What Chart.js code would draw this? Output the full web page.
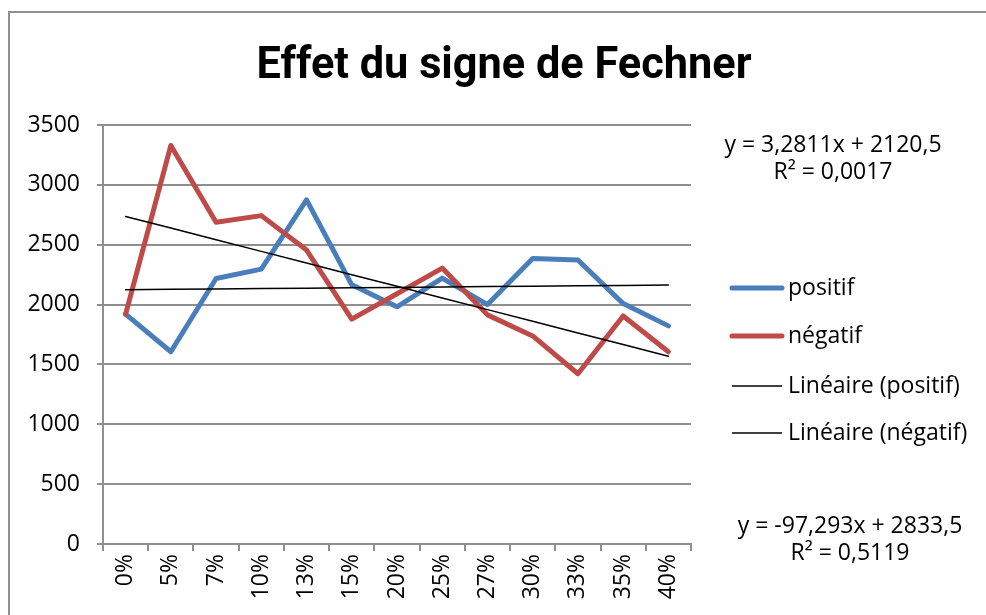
<!DOCTYPE html>
<html lang="fr">
<head>
<meta charset="UTF-8">
<title>Effet du signe de Fechner</title>
<script src="https://cdn.jsdelivr.net/npm/chart.js"></script>
<style>
  html, body { margin: 0; padding: 0; background: #fff; }
  #wrap { width: 986px; height: 615px; position: relative; }
</style>
</head>
<body>
<div id="wrap"><canvas id="fechner"></canvas></div>
<script>
  // Données : temps moyen par niveau de différence
  const categories = ['0%', '5%', '7%', '10%', '13%', '15%', '20%', '25%', '27%', '30%', '33%', '35%', '40%'];
  const positif = [1920, 1606, 2218, 2296, 2874, 2165, 1981, 2221, 2000, 2385, 2372, 2008, 1822];
  const negatif = [1920, 3329, 2687, 2743, 2455, 1878, 2090, 2305, 1914, 1738, 1422, 1905, 1606];

  // Courbes de tendance linéaires : [pente, ordonnée à l'origine, R²]
  const tendancePositif = [3.2811, 2120.5, 0.0017];
  const tendanceNegatif = [-97.293, 2833.5, 0.5119];

  const yMax = 3500;
  const yStep = 500;

  const GREY = '#8f8f8f';
  const BLUE = '#4a7ebb';
  const RED = '#be4b48';
  const FONT = '"Open Sans", "DejaVu Sans", sans-serif';

  // x = 1..n comme dans Excel
  const droite = ([a, b]) => categories.map((c, i) => a * (i + 1) + b);
  const virgule = v => String(v).replace('.', ',');
  const equation = ([a, b]) => 'y = ' + virgule(a) + 'x + ' + virgule(b);

  const decor = {
    id: 'decor',
    beforeDraw(chart) {
      const ctx = chart.ctx;
      ctx.save();
      ctx.strokeStyle = GREY;
      ctx.lineWidth = 2;
      ctx.beginPath();
      ctx.moveTo(9, chart.height);
      ctx.lineTo(9, 12);
      ctx.lineTo(chart.width, 12);
      ctx.stroke();
      ctx.restore();
    },
    afterDraw(chart) {
      const ctx = chart.ctx;
      ctx.save();
      ctx.fillStyle = '#000';

      // titre
      ctx.font = 'bold 44px Roboto, "DejaVu Sans", sans-serif';
      ctx.textAlign = 'center';
      ctx.textBaseline = 'middle';
      ctx.fillText('Effet du signe de Fechner', 504, 67, 495);

      // équations des tendances
      ctx.font = '23px ' + FONT;
      ctx.fillText(equation(tendancePositif), 833, 145);
      ctx.fillText('R² = ' + virgule(tendancePositif[2]), 833, 172);
      ctx.fillText(equation(tendanceNegatif), 850, 526);
      ctx.fillText('R² = ' + virgule(tendanceNegatif[2]), 850, 553);

      // légende
      const rows = [288, 336, 386, 433];
      ctx.textAlign = 'left';
      chart.data.datasets.forEach((ds, i) => {
        const y = rows[i];
        ctx.strokeStyle = ds.borderColor;
        ctx.lineWidth = ds.borderWidth;
        ctx.lineCap = ds.borderWidth > 3 ? 'round' : 'butt';
        ctx.beginPath();
        ctx.moveTo(732, y);
        ctx.lineTo(782, y);
        ctx.stroke();
        ctx.fillText(ds.label, 788, y);
      });
      ctx.restore();
    }
  };

  const tickFont = { family: FONT, size: 23 };

  new Chart(document.getElementById('fechner'), {
    type: 'line',
    data: {
      labels: categories,
      datasets: [
        { label: 'positif', data: positif, borderColor: BLUE, borderWidth: 5, order: 2 },
        { label: 'négatif', data: negatif, borderColor: RED, borderWidth: 5, order: 1 },
        { label: 'Linéaire (positif)', data: droite(tendancePositif), borderColor: '#000', borderWidth: 1.5, order: 0 },
        { label: 'Linéaire (négatif)', data: droite(tendanceNegatif), borderColor: '#000', borderWidth: 1.5, order: 0 }
      ]
    },
    options: {
      responsive: true,
      maintainAspectRatio: false,
      animation: false,
      elements: {
        point: { radius: 0 },
        line: { tension: 0, fill: false, borderJoinStyle: 'round', borderCapStyle: 'round' }
      },
      layout: { padding: { left: 28, top: 125, right: 295, bottom: 0 } },
      plugins: {
        legend: { display: false },
        title: { display: false },
        tooltip: { enabled: false }
      },
      scales: {
        x: {
          offset: true,
          grid: { offset: true, drawOnChartArea: false, color: GREY, lineWidth: 2, tickLength: 7 },
          border: { color: GREY, width: 2 },
          ticks: { minRotation: 90, maxRotation: 90, autoSkip: false, padding: 3, color: '#000', font: tickFont },
          afterFit(scale) { scale.height = 71; }
        },
        y: {
          min: 0,
          max: yMax,
          grid: { color: GREY, lineWidth: 2, tickLength: 6 },
          border: { color: GREY, width: 2 },
          ticks: { stepSize: yStep, padding: 17, color: '#000', font: tickFont, callback: v => String(v) },
          afterFit(scale) { scale.width = 75; }
        }
      }
    },
    plugins: [decor]
  });
</script>
</body>
</html>
